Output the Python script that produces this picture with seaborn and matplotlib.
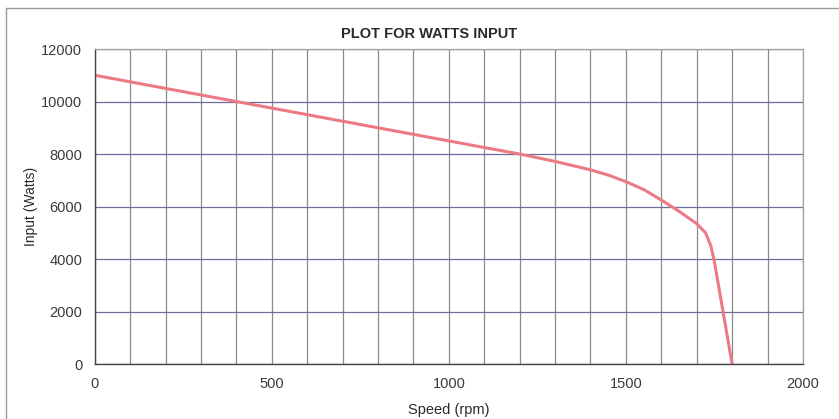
import numpy as np
import pandas as pd
import matplotlib
matplotlib.use("Agg")
import matplotlib.pyplot as plt
import seaborn as sns
from matplotlib.ticker import MultipleLocator

speed_rpm = [0, 100, 200, 300, 400, 500, 600, 700, 800, 900, 1000, 1100, 1200,
             1300, 1400, 1450, 1500, 1550, 1600, 1650, 1700, 1725, 1740, 1750,
             1775, 1800]
input_watts = [11000, 10750, 10500, 10250, 10000, 9750, 9500, 9250, 9000, 8750,
               8500, 8250, 8000, 7720, 7400, 7200, 6950, 6650, 6250, 5820,
               5350, 5000, 4500, 3900, 1950, 0]

df = pd.DataFrame({'Speed (rpm)': speed_rpm, 'Input (Watts)': input_watts})

sns.set_style('white')
plt.rcParams['font.family'] = ['Liberation Sans', 'DejaVu Sans']

fig = plt.figure(figsize=(8.39, 4.19), dpi=100)
ax = fig.add_axes([0.113, 0.131, 0.844, 0.752])

sns.lineplot(data=df, x='Speed (rpm)', y='Input (Watts)', ax=ax,
             color='#ec7a85', linewidth=2.2, sort=False)

ax.set_xlim(0, 2000)
ax.set_ylim(0, 12000)
ax.xaxis.set_major_locator(MultipleLocator(500))
ax.yaxis.set_major_locator(MultipleLocator(2000))
ax.xaxis.set_minor_locator(MultipleLocator(100))

ax.grid(which='minor', axis='x', color='#8a8a8a', linewidth=0.9)
ax.grid(which='major', axis='x', color='#8a8a8a', linewidth=0.9)
ax.grid(which='major', axis='y', color='#6a6e9c', linewidth=0.9)
ax.set_axisbelow(True)

for side in ['top', 'right']:
    ax.spines[side].set_color('#a0a0a0')
    ax.spines[side].set_linewidth(0.9)
for side in ['left', 'bottom']:
    ax.spines[side].set_color('#444444')
    ax.spines[side].set_linewidth(1.0)

ax.tick_params(axis='both', which='major', direction='out', length=4,
               color='#444444', labelsize=10.5, labelcolor='#3a3a3a', pad=5)
ax.tick_params(axis='x', which='minor', length=0)

ax.set_xlabel('Speed (rpm)', fontsize=10.5, color='#2a2a2a', labelpad=9)
ax.set_ylabel('Input (Watts)', fontsize=10, color='#2a2a2a', labelpad=2)
ax.set_title('PLOT FOR WATTS INPUT', fontsize=10.5, fontweight='bold',
             color='#2a2a2a', pad=8, x=0.472)

# chart-area frame of the scanned sheet
fig.add_artist(plt.Line2D([0.007, 0.007], [0.0, 0.98], transform=fig.transFigure,
                          color='#9a9a9a', linewidth=1.0))
fig.add_artist(plt.Line2D([0.007, 1.0], [0.98, 0.98], transform=fig.transFigure,
                          color='#9a9a9a', linewidth=1.0))

fig.savefig('out.png', dpi=100)
